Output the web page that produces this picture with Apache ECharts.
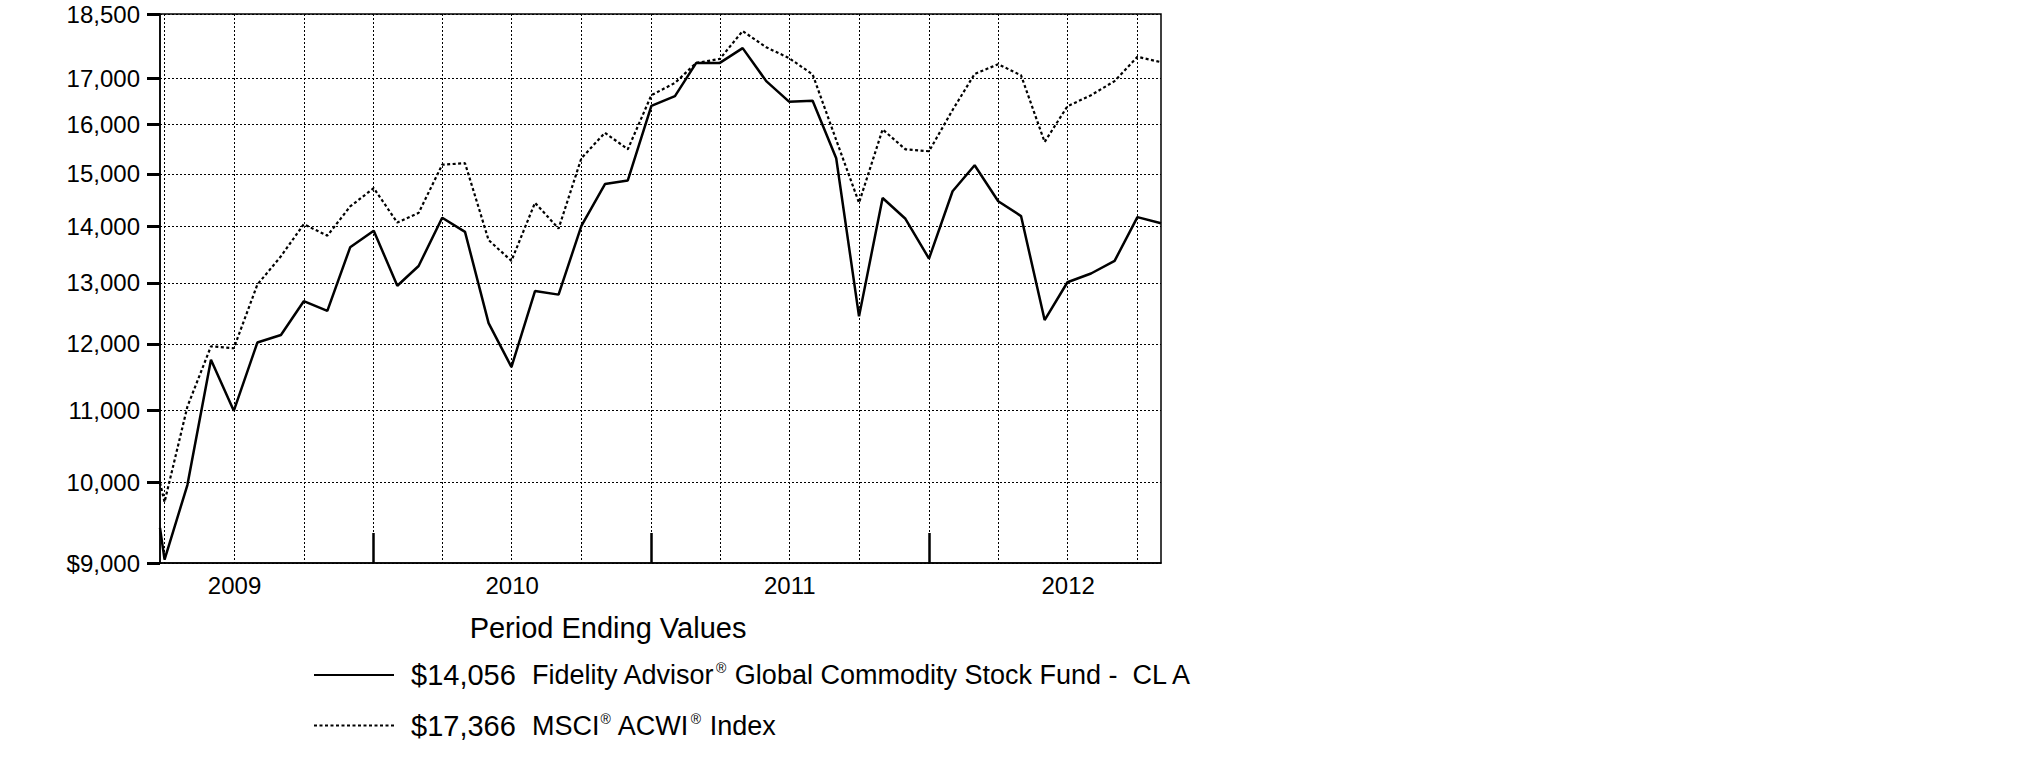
<!DOCTYPE html>
<html><head><meta charset="utf-8">
<script src="https://cdn.jsdelivr.net/npm/echarts@6/dist/echarts.min.js"></script>
<style>html,body{margin:0;padding:0;background:#fff}#c{width:2025px;height:773px}</style>
</head><body><div id="c"></div>
<script>
// ---- data ----
const dates = ['2009-03-25','2009-03-31','2009-04-30','2009-05-31','2009-06-30','2009-07-31','2009-08-31','2009-09-30','2009-10-31','2009-11-30','2009-12-31',
  '2010-01-31','2010-02-28','2010-03-31','2010-04-30','2010-05-31','2010-06-30','2010-07-31','2010-08-31','2010-09-30','2010-10-31','2010-11-30','2010-12-31',
  '2011-01-31','2011-02-28','2011-03-31','2011-04-30','2011-05-31','2011-06-30','2011-07-31','2011-08-31','2011-09-30','2011-10-31','2011-11-30','2011-12-31',
  '2012-01-31','2012-02-29','2012-03-31','2012-04-30','2012-05-31','2012-06-30','2012-07-31','2012-08-31','2012-09-30','2012-10-31'];
const fundValues = [9425,9040,9970,11750,10990,12020,12140,12690,12530,13620,13920,
  12950,13290,14160,13900,12330,11640,12860,12800,14010,14800,14870,16400,
  16610,17350,17350,17690,16940,16490,16510,15310,12440,14530,14140,13420,
  14660,15170,14470,14190,12380,13010,13160,13380,14170,14056];
const indexValues = [10000,9750,11050,11960,11930,12970,13460,14040,13830,14370,14720,
  14070,14250,15180,15210,13750,13380,14440,13960,15310,15830,15490,16630,
  16900,17350,17440,18090,17710,17460,17090,15680,14440,15900,15490,15450,
  16310,17100,17320,17070,15640,16390,16630,16940,17490,17366];
const seriesNames = ['Fidelity Advisor® Global Commodity Stock Fund -  CL A', 'MSCI® ACWI® Index'];
const legendValues = ['$14,056', '$17,366'];
const yTicks = [9000,10000,11000,12000,13000,14000,15000,16000,17000,18500];
const yTickLabels = ['$9,000','10,000','11,000','12,000','13,000','14,000','15,000','16,000','17,000','18,500'];
const gridDates = ['2009-03-31','2009-06-30','2009-09-30','2009-12-31','2010-03-31','2010-06-30','2010-09-30','2010-12-31',
  '2011-03-31','2011-06-30','2011-09-30','2011-12-31','2012-03-31','2012-06-30','2012-09-30'];
const yearTickDates = ['2009-12-31','2010-12-31','2011-12-31'];
const yearLabelDates = ['2009-07-01','2010-07-01','2011-07-01','2012-07-01'];
const yearLabels = ['2009','2010','2011','2012'];
const chartTitle = 'Period Ending Values';

// ---- chart ----
const FONT = "'Liberation Sans', Arial, sans-serif";
const t0 = Date.UTC(2009, 2, 25);
// day offset from start date (UTC, no timezone drift)
const dayOf = s => { const p = s.split('-').map(Number); return (Date.UTC(p[0], p[1] - 1, p[2]) - t0) / 86400000; };
const xMin = dayOf(dates[0]), xMax = dayOf(dates[dates.length - 1]);
const yearLabelX = yearLabelDates.map(dayOf);

function richName(s) {
  return s.split('®').map(p => '{d|' + p + '}').join('{s|®}');
}
function nearestLabel(v, ticks, labels) {
  let bi = 0, bd = Infinity;
  ticks.forEach((t, i) => { const d = Math.abs(t - v); if (d < bd) { bd = d; bi = i; } });
  return labels[bi];
}

const chart = echarts.init(document.getElementById('c'), null, {renderer: 'svg'});
chart.setOption({
  animation: false,
  backgroundColor: '#fff',
  grid: {left: 160, top: 14, width: 1001, height: 549, show: true, borderColor: '#000', borderWidth: 1.5, backgroundColor: 'transparent'},
  xAxis: [{
    type: 'value', min: xMin, max: xMax,
    axisLine: {show: true, onZero: false, lineStyle: {color: '#000', width: 1.5}},
    axisTick: {show: false, customValues: gridDates.map(dayOf)},
    axisLabel: {show: false},
    splitLine: {show: true, lineStyle: {color: '#000', width: 1, type: [2, 2]}}
  }, {
    type: 'value', min: xMin, max: xMax, position: 'bottom',
    axisLine: {show: false, onZero: false},
    axisTick: {show: true, inside: true, length: 30, customValues: yearTickDates.map(dayOf), lineStyle: {color: '#000', width: 2.5}},
    axisLabel: {
      show: true, customValues: yearLabelX, margin: 10, color: '#000', fontSize: 24, fontFamily: FONT,
      formatter: v => nearestLabel(v, yearLabelX, yearLabels)
    },
    splitLine: {show: false}
  }],
  yAxis: {
    type: 'log', logBase: 10, min: 9000, max: 18500,
    axisLine: {show: true, lineStyle: {color: '#000', width: 1.5}},
    axisTick: {show: true, length: 13, customValues: yTicks, lineStyle: {color: '#000', width: 3}},
    axisLabel: {
      show: true, customValues: yTicks, margin: 20, color: '#000', fontSize: 24, fontFamily: FONT,
      formatter: v => nearestLabel(v, yTicks, yTickLabels)
    },
    splitLine: {show: true, lineStyle: {color: '#000', width: 1, type: [2, 2]}}
  },
  legend: {
    orient: 'vertical', left: 308, top: 652, itemWidth: 80, itemHeight: 14, itemGap: 18,
    selectedMode: false,
    data: seriesNames,
    itemStyle: {opacity: 0, borderWidth: 0},
    formatter: name => {
      const i = seriesNames.indexOf(name);
      return '{g| }{v|' + legendValues[i] + '}' + richName(name);
    },
    textStyle: {
      color: '#000', fontFamily: FONT,
      rich: {
        g: {width: 12, fontSize: 29, lineHeight: 36},
        v: {width: 121, fontSize: 29, lineHeight: 36, color: '#000', fontFamily: FONT},
        d: {fontSize: 27, lineHeight: 36, color: '#000', fontFamily: FONT},
        s: {fontSize: 14, lineHeight: 36, verticalAlign: 'top', padding: [4, 1, 0, 1], color: '#000', fontFamily: FONT}
      }
    }
  },
  graphic: [{
    type: 'text', x: 608, y: 628,
    style: {text: chartTitle, fontSize: 29, fontFamily: FONT, fill: '#000', textAlign: 'center', textVerticalAlign: 'middle'}
  }],
  series: [{
    name: seriesNames[0], type: 'line', xAxisIndex: 0, symbol: 'none',
    data: dates.map((d, i) => [dayOf(d), fundValues[i]]),
    lineStyle: {color: '#000', width: 2.5, type: 'solid'}, itemStyle: {color: '#000'}
  }, {
    name: seriesNames[1], type: 'line', xAxisIndex: 0, symbol: 'none',
    data: dates.map((d, i) => [dayOf(d), indexValues[i]]),
    lineStyle: {color: '#000', width: 2.2, type: [3, 2.5]}, itemStyle: {color: '#000'}
  }]
});
</script></body></html>
